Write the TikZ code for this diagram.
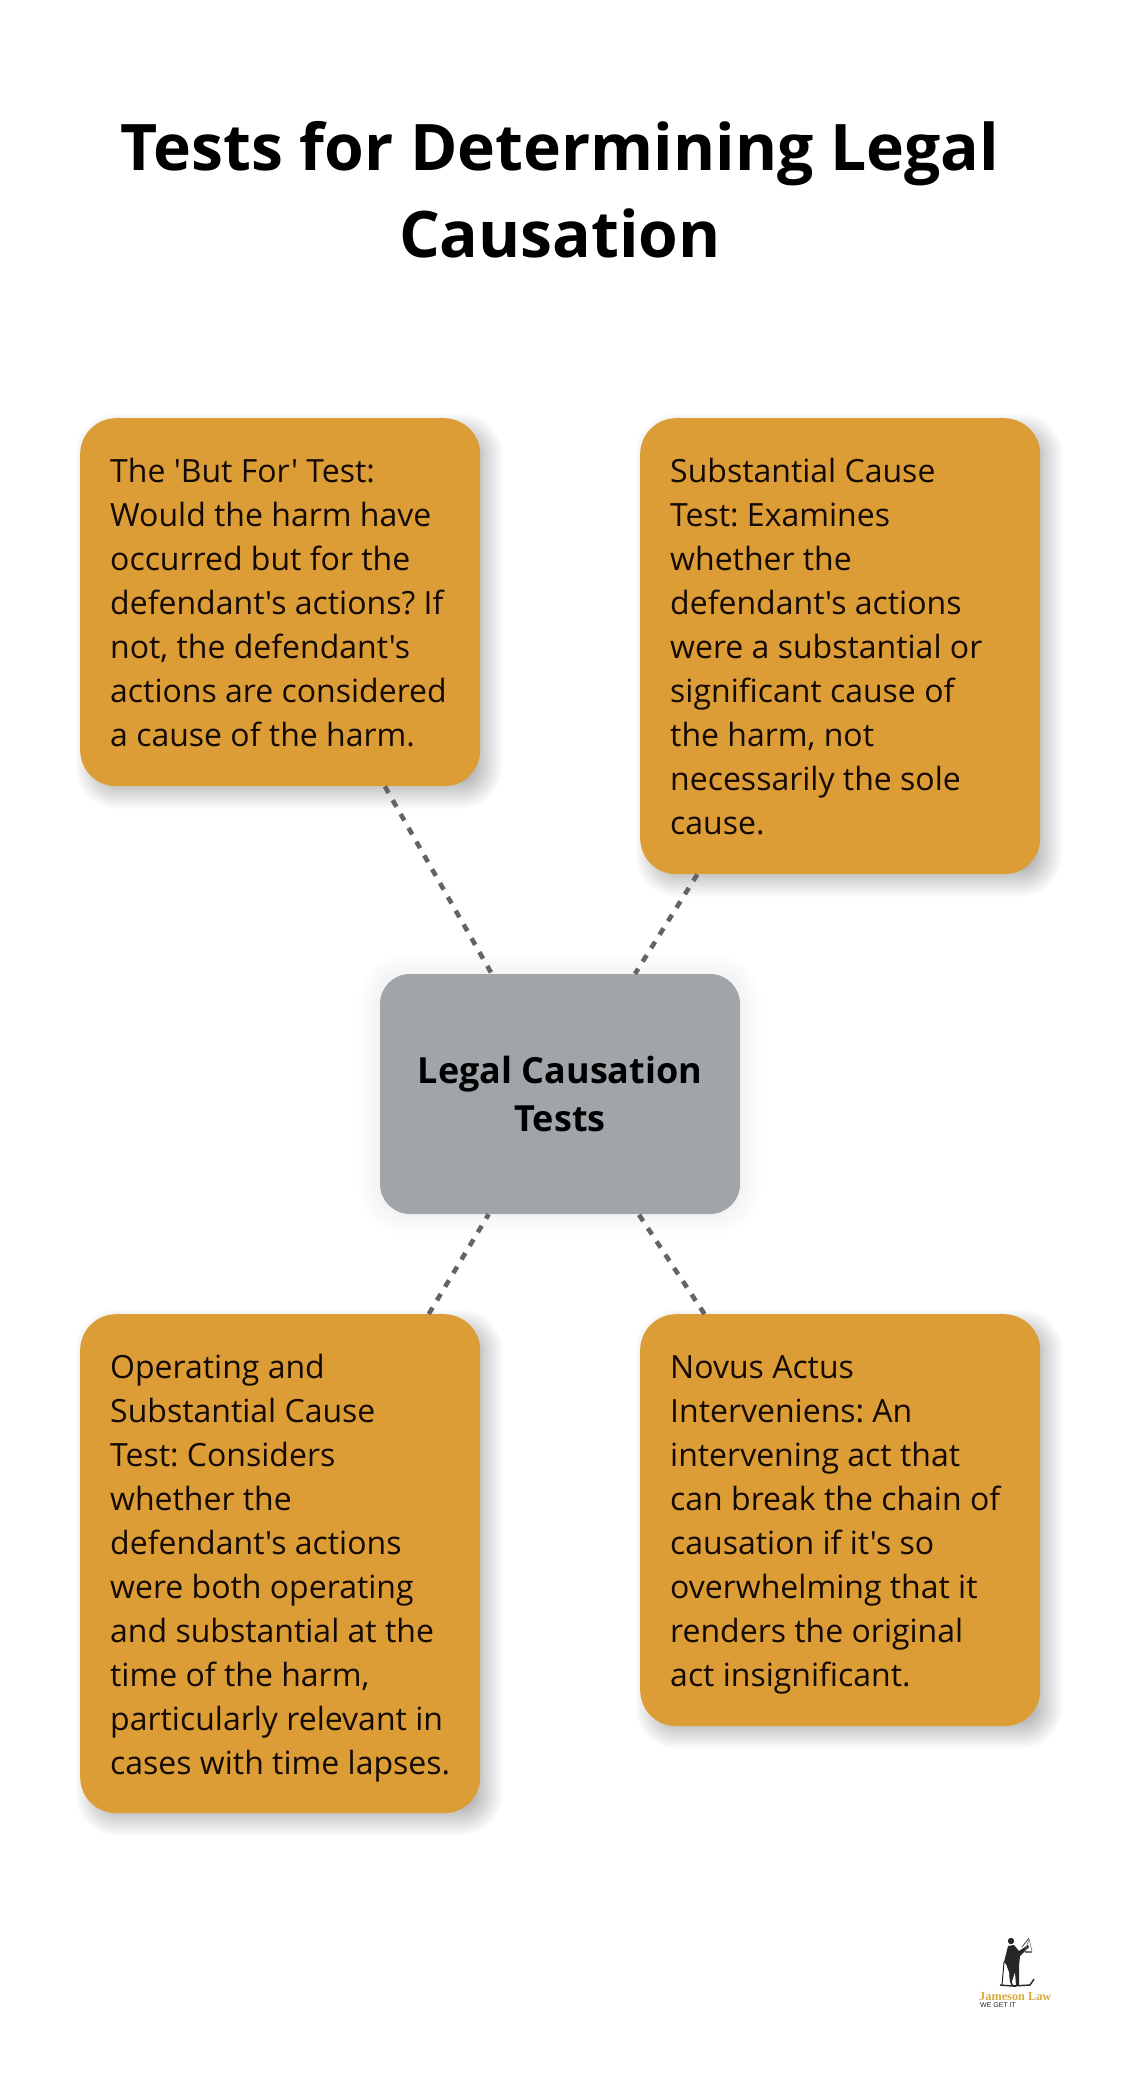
\documentclass[tikz,border=0pt]{standalone}
\usepackage{fontspec}
\setmainfont{Open Sans}[Ligatures=TeXOff]
\newfontfamily\logoserif{Liberation Serif}
\newfontfamily\logosans{Liberation Sans}
\definecolor{ochre}{HTML}{DC9C36}
\definecolor{slategrey}{HTML}{9FA5A9}
\definecolor{dashgrey}{HTML}{646464}
\definecolor{inkdark}{HTML}{140A04}
\definecolor{logogold}{HTML}{D9A93C}
\definecolor{shadowtint}{HTML}{10141C}
\tikzset{
  x=1pt,y=-1pt,
  testbox/.style={fill=ochre,rounded corners=36pt,minimum width=400pt,inner sep=0pt,
    text=inkdark,anchor=north west,font=\fontsize{32}{44}\selectfont},
  hubbox/.style={fill=slategrey,rounded corners=30pt,minimum width=360pt,minimum height=240pt,
    inner sep=0pt,text=black,align=center,font=\fontsize{36}{48}\selectfont\bfseries},
  titletext/.style={align=center,text=black,font=\fontsize{64.2}{87}\selectfont\bfseries},
  linkline/.style={dashgrey,line width=4.6pt,dash pattern=on 7.5pt off 8.4pt},
  logoink/.style={fill=black!85},
}
% #1 = box height, #2 = lines; first baseline 64.5 below the top
\newcommand{\boxtext}[2]{\parbox[c][#1pt][t]{340pt}{\raggedright\frenchspacing\rule{0pt}{64.5pt}#2}}
% #1 #2 #3 #4 = box corners, #5 = offset, #6 = spread, #7 = opacity per layer
\newcommand{\softshade}[7]{%
  \foreach \g in {1,...,24}{
    \pgfmathsetmacro{\gr}{#6*(1.0-\g/12.0)}
    \pgfmathsetmacro{\rad}{max(28+\gr,4)}
    \fill[shadowtint,fill opacity=#7,rounded corners=\rad pt]
      ({#1+#5-\gr},{#2+#5-\gr}) rectangle ({#3+#5+\gr},{#4+#5+\gr});
  }}
\begin{document}
\begin{tikzpicture}
\useasboundingbox (0,0) rectangle (1120,2074);
\fill[white] (0,0) rectangle (1120,2074);

\node[titletext] (title) at (560,190) {Tests for Determining Legal\\Causation};

% soft shadows
\softshade{80}{418}{480}{786}{9}{15}{0.011}
\softshade{640}{418}{1040}{874}{9}{15}{0.011}
\softshade{80}{1314}{480}{1813}{9}{15}{0.011}
\softshade{640}{1314}{1040}{1726}{9}{15}{0.011}
\softshade{380}{974}{740}{1214}{0}{24}{0.004}

\node[testbox,minimum height=368pt] (butfor) at (80,418) {\boxtext{368}{The 'But For' Test:\\Would the harm have\\occurred but for the\\defendant's actions? If\\not, the defendant's\\actions are considered\\a cause of the harm.}};
\node[testbox,minimum height=456pt] (subst) at (640,418) {\boxtext{456}{Substantial Cause\\Test: Examines\\whether the\\defendant's actions\\were a substantial or\\significant cause of\\the harm, not\\necessarily the sole\\cause.}};
\node[testbox,minimum height=499pt] (operating) at (80,1314) {\boxtext{499}{Operating and\\Substantial Cause\\Test: Considers\\whether the\\defendant's actions\\were both operating\\and substantial at the\\time of the harm,\\particularly relevant in\\cases with time lapses.}};
\node[testbox,minimum height=412pt] (novus) at (640,1314) {\boxtext{412}{Novus Actus\\Interveniens: An\\intervening act that\\can break the chain of\\causation if it's so\\overwhelming that it\\renders the original\\act insignificant.}};
\node[hubbox] (hub) at (560,1094) {\raisebox{-2pt}{Legal Causation}\\\raisebox{-2pt}{Tests}};

\draw[linkline] (butfor) -- (hub);
\draw[linkline] (subst) -- (hub);
\draw[linkline] (operating) -- (hub);
\draw[linkline] (novus) -- (hub);

% logo
\fill[logoink] (1011,1941) circle (3.2);
\fill[logoink] (1008,1946) -- (1014,1945) -- (1019,1951) -- (1028,1945) -- (1029,1947) -- (1020,1956) -- (1019,1966)
  -- (1019,1985) -- (1016,1986) -- (1015,1972) -- (1011,1984) -- (1009,1972) -- (1006,1964) -- (1004,1962) -- cycle;
\draw[black!85,line width=1pt] (1004,1962) -- (1002,1985);
\draw[black!70,line width=0.8pt] (1022,1947) -- (1029,1938);
\draw[black!55,line width=0.6pt] (1029,1939) -- (1025,1951) (1029,1939) -- (1032,1951);
\fill[black!55] (1025,1951) rectangle (1032,1953);
\draw[black!85,line width=1.6pt] (1010,1975) .. controls (1011,1985) and (1012,1987) .. (1016,1986);
\draw[black!85,line width=1.4pt] (1000,1985) -- (1012,1986) -- (1030,1985) -- (1034,1979);
\node[inner sep=0pt,anchor=west,text=logogold,font=\logoserif\fontsize{12.3}{12}\selectfont\bfseries] (logoname) at (979,1997) {Jameson Law};
\node[inner sep=0pt,anchor=west,text=black!85,font=\logosans\fontsize{7}{8}\selectfont] (logotag) at (980,2005) {WE GET IT};
\end{tikzpicture}
\end{document}
